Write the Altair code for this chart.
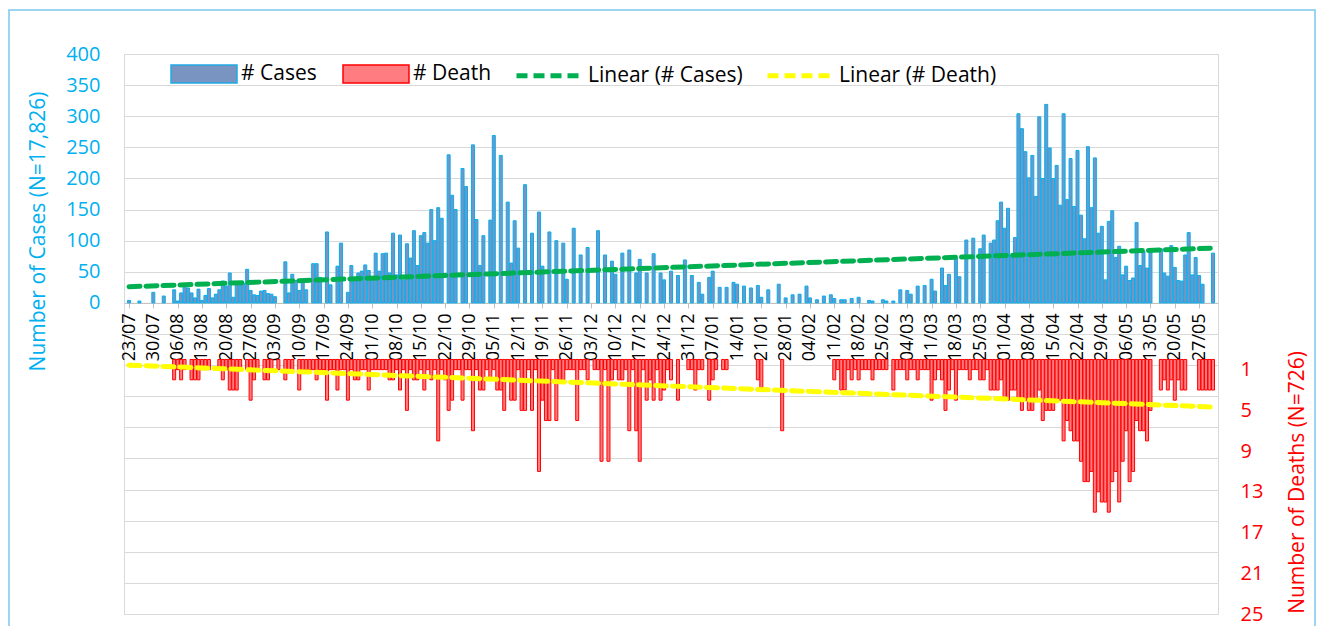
import altair as alt
import pandas as pd

# ---------------- data ----------------
# daily values, 23/07 .. 31/05 (one value per day, 7 per row = one week)
CASES = [
    4, 0, 0, 3, 0, 0, 0,
    17, 0, 0, 11, 0, 0, 21,
    3, 16, 27, 24, 16, 8, 22,
    4, 12, 23, 8, 14, 21, 35,
    27, 48, 9, 32, 30, 31, 54,
    20, 13, 12, 19, 20, 15, 14,
    10, 0, 0, 66, 16, 46, 36,
    20, 36, 21, 0, 63, 63, 41,
    0, 114, 29, 0, 59, 96, 0,
    17, 60, 40, 48, 51, 61, 52,
    40, 80, 51, 79, 80, 48, 112,
    45, 109, 37, 95, 72, 116, 60,
    108, 113, 96, 150, 100, 153, 136,
    0, 238, 173, 150, 0, 216, 187,
    0, 254, 134, 60, 108, 0, 133,
    269, 0, 237, 0, 162, 64, 132,
    88, 0, 190, 0, 112, 0, 146,
    59, 0, 114, 0, 100, 0, 96,
    38, 0, 120, 0, 77, 0, 89,
    0, 0, 116, 0, 77, 0, 67,
    46, 0, 80, 0, 85, 0, 48,
    70, 0, 48, 0, 79, 0, 48,
    37, 0, 51, 0, 44, 0, 69,
    0, 44, 0, 33, 14, 0, 41,
    51, 0, 25, 0, 25, 0, 33,
    30, 0, 27, 0, 24, 0, 28,
    9, 0, 21, 0, 0, 30, 0,
    8, 0, 13, 0, 14, 0, 27,
    8, 0, 5, 0, 11, 0, 13,
    7, 0, 5, 5, 0, 7, 0,
    9, 0, 0, 4, 3, 0, 0,
    5, 3, 0, 3, 0, 21, 0,
    20, 14, 0, 27, 0, 28, 0,
    38, 19, 0, 56, 28, 46, 0,
    72, 42, 0, 101, 0, 104, 0,
    87, 109, 0, 96, 101, 132, 162,
    120, 152, 74, 105, 304, 280, 243,
    201, 237, 171, 299, 200, 319, 249,
    200, 221, 157, 304, 166, 232, 155,
    245, 141, 103, 251, 153, 233, 112,
    123, 37, 131, 148, 73, 91, 45,
    59, 36, 40, 129, 60, 83, 56,
    83, 0, 0, 87, 48, 43, 92,
    57, 36, 35, 77, 113, 45, 73,
    44, 30, 0, 0, 80,
]

DEATHS = [
    0, 0, 0, 0, 0, 0, 0,
    0, 0, 0, 0, 0, 0, 2,
    1, 2, 1, 0, 2, 2, 2,
    1, 1, 1, 0, 0, 1, 2,
    1, 3, 3, 3, 1, 0, 1,
    4, 2, 1, 0, 2, 2, 1,
    0, 1, 0, 2, 1, 1, 0,
    3, 1, 1, 1, 1, 2, 1,
    1, 4, 1, 1, 3, 1, 1,
    4, 1, 2, 2, 1, 1, 3,
    1, 1, 1, 1, 1, 2, 2,
    1, 3, 1, 5, 1, 2, 2,
    1, 3, 1, 2, 1, 8, 1,
    2, 5, 4, 1, 1, 4, 1,
    1, 7, 1, 3, 3, 1, 2,
    1, 3, 3, 5, 2, 4, 4,
    1, 5, 5, 1, 5, 1, 11,
    4, 6, 6, 1, 6, 2, 2,
    1, 1, 1, 6, 1, 1, 2,
    0, 1, 1, 10, 1, 10, 2,
    1, 2, 2, 1, 7, 1, 7,
    10, 1, 4, 2, 4, 1, 4,
    3, 1, 2, 0, 4, 0, 0,
    1, 1, 3, 1, 1, 0, 4,
    2, 1, 0, 1, 1, 0, 0,
    0, 0, 0, 0, 0, 0, 2,
    3, 0, 0, 0, 0, 0, 7,
    0, 0, 0, 0, 0, 0, 0,
    0, 0, 0, 0, 0, 0, 0,
    2, 1, 3, 3, 1, 2, 1,
    2, 1, 1, 1, 2, 1, 1,
    1, 1, 0, 3, 1, 1, 1,
    2, 1, 1, 2, 1, 1, 1,
    4, 2, 1, 2, 5, 3, 1,
    4, 1, 1, 1, 2, 1, 1,
    2, 2, 1, 3, 3, 3, 2,
    4, 4, 3, 3, 4, 5, 4,
    5, 5, 4, 3, 6, 5, 5,
    5, 4, 4, 8, 6, 7, 8,
    8, 10, 12, 12, 11, 15, 13,
    14, 14, 15, 12, 11, 14, 10,
    7, 12, 11, 6, 7, 7, 8,
    5, 0, 0, 3, 2, 3, 2,
    4, 2, 3, 3, 0, 0, 0,
    3, 3, 3, 3, 3,
]

WEEK_LABELS = [
    "23/07", "30/07", "06/08", "13/08", "20/08", "27/08", "03/09", "10/09",
    "17/09", "24/09", "01/10", "08/10", "15/10", "22/10", "29/10", "05/11",
    "12/11", "19/11", "26/11", "03/12", "10/12", "17/12", "24/12", "31/12",
    "07/01", "14/01", "21/01", "28/01", "04/02", "11/02", "18/02", "25/02",
    "04/03", "11/03", "18/03", "25/03", "01/04", "08/04", "15/04", "22/04",
    "29/04", "06/05", "13/05", "20/05", "27/05",
]

CASE_TICKS = [-500, -450, -400, -350, -300, -250, -200, -150, -100, -50,
              0, 50, 100, 150, 200, 250, 300, 350, 400]
DEATH_TICKS = [1, 5, 9, 13, 17, 21, 25]

SERIES_LINES = ["Linear (# Cases)", "Linear (# Death)"]

# ---------------- chart ----------------
N = len(CASES)
df = pd.DataFrame({"day": list(range(N)), "cases": CASES, "deaths": DEATHS})

W, H = 1094, 560
FONT = "Open Sans"
BLUE_TXT = "#00B0F0"
RED_TXT = "#FF0000"
GRID = "#D9D9D9"

label_expr = "[" + ",".join("'%s'" % s for s in WEEK_LABELS) + "][round(datum.value / 7)]"

x_enc = alt.X(
    "day:Q",
    scale=alt.Scale(domain=[0, N - 1], nice=False, zero=False),
    axis=alt.Axis(
        values=[7 * i for i in range(len(WEEK_LABELS))],
        labelExpr=label_expr, labelAngle=270, labelFontSize=18, labelFont=FONT,
        labelColor="#000000", labelPadding=5, labelFlush=False, labelOverlap=False,
        labelBound=False, tickSize=5, tickColor="#BFBFBF",
        domainColor="#BFBFBF", grid=False, title=None,
        orient="bottom", offset=-(H - H * 400 / 900),
    ),
)

y_cases_axis = alt.Axis(
    values=CASE_TICKS, labelExpr="datum.value >= 0 ? datum.label : ''",
    grid=True, gridColor=GRID, gridWidth=1, ticks=False, domain=False,
    labelColor=BLUE_TXT, labelFontSize=20, labelFont=FONT, labelPadding=24,
    title="Number of Cases (N=17,826)", titleColor=BLUE_TXT, titleFontSize=21,
    titleFont=FONT, titleFontWeight="normal", titleAngle=270, titleX=-86,
    titleY=177, titleAlign="center", titleBaseline="middle", orient="left",
)
y_cases = alt.Y("cases:Q", scale=alt.Scale(domain=[-500, 400], nice=False, zero=False),
                axis=y_cases_axis)

y_deaths_axis = alt.Axis(
    values=DEATH_TICKS, grid=False, ticks=False, domain=False,
    labelColor=RED_TXT, labelFontSize=20, labelFont=FONT, labelPadding=22,
    title="Number of Deaths (N=726)", titleColor=RED_TXT, titleFontSize=21,
    titleFont=FONT, titleFontWeight="normal", titleAngle=270, titleX=79,
    titleY=428, titleAlign="center", titleBaseline="middle", orient="right",
)
y_deaths = alt.Y("deaths:Q", scale=alt.Scale(domain=[-30, 25], reverse=True, nice=False, zero=False),
                 axis=y_deaths_axis)

RECT_PATH = "M-1,-0.27L1,-0.27L1,0.27L-1,0.27Z"


def bar_legend(x, stroke):
    return alt.Legend(
        title=None, orient="none", legendX=x, legendY=-14, direction="horizontal",
        symbolType=RECT_PATH, symbolSize=66 * 66, symbolStrokeWidth=1.5,
        symbolStrokeColor=stroke, symbolOpacity=1,
        labelFont=FONT, labelFontSize=21, labelColor="#000000", labelOffset=3,
        padding=0, labelLimit=400,
    )


legend_lines = alt.Legend(
    title=None, orient="none", legendX=390, legendY=-15, direction="horizontal",
    symbolType="stroke", symbolSize=68 * 68, symbolStrokeWidth=5, symbolDash=[11, 6],
    labelFont=FONT, labelFontSize=21, labelColor="#000000", labelOffset=1,
    columnPadding=14, padding=0, labelLimit=400,
)

stroke_scale = alt.Scale(domain=SERIES_LINES, range=["#00B050", "#FFFF00"])

base = alt.Chart(df)

cases_bars = base.transform_filter("datum.cases > 0").transform_calculate(
    bar_series="'# Cases'"
).mark_bar(width=3.0, stroke="#00B0F0", strokeWidth=1.0, clip=True).encode(
    x=x_enc, y=y_cases,
    fill=alt.Fill("bar_series:N", scale=alt.Scale(domain=["# Cases"], range=["#7A94C2"]),
                  legend=bar_legend(46, "#1FA9E6")),
)

cases_line = base.transform_regression(
    "day", "cases", method="linear", extent=[0, N - 1]
).transform_calculate(line_series="'Linear (# Cases)'").mark_line(
    strokeWidth=5, strokeDash=[11, 6], strokeCap="round"
).encode(
    x=x_enc, y=y_cases,
    stroke=alt.Stroke("line_series:N", scale=stroke_scale, legend=legend_lines),
)

death_bars = base.transform_filter("datum.deaths > 0").transform_calculate(
    bar_series2="'# Death'"
).mark_bar(width=3.0, stroke="#FF0000", strokeWidth=1.0, clip=True).encode(
    x=x_enc, y=y_deaths,
    color=alt.Color("bar_series2:N", scale=alt.Scale(domain=["# Death"], range=["#FF7C80"]),
                    legend=bar_legend(218, "#FF0000")),
)

death_line = base.transform_regression(
    "day", "deaths", method="linear", extent=[0, N - 1]
).transform_calculate(line_series="'Linear (# Death)'").mark_line(
    strokeWidth=5, strokeDash=[11, 6], strokeCap="round"
).encode(
    x=x_enc, y=y_deaths,
    stroke=alt.Stroke("line_series:N", scale=stroke_scale, legend=legend_lines),
)

frame = alt.Chart(alt.Data(values=[{}])).mark_rect(
    filled=False, stroke="#7CC7EE", strokeWidth=1.5
).encode(x=alt.value(-115), x2=alt.value(W + 97), y=alt.value(-44), y2=alt.value(H + 20))

cases_layer = alt.layer(cases_bars, cases_line)
deaths_layer = alt.layer(death_bars, death_line)

chart = alt.layer(cases_layer, deaths_layer, frame).resolve_scale(
    y="independent"
).properties(
    width=W, height=H,
    padding={"left": 116, "top": 46, "right": 98, "bottom": 12},
    autosize=alt.AutoSizeParams(type="none"),
).configure(font=FONT).configure_view(stroke=GRID)

chart.save("out.html", embed_options={"renderer": "svg", "actions": False})
